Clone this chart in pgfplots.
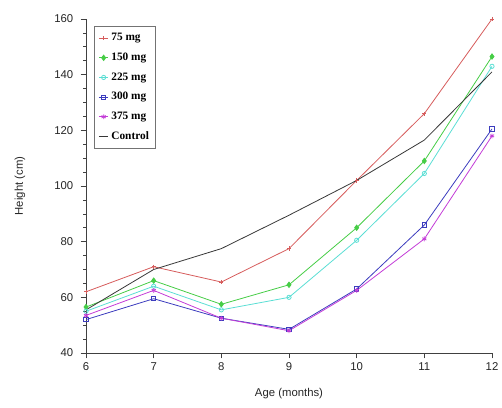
\documentclass[border=0pt]{standalone}
\usepackage{pgfplots}
\pgfplotsset{compat=1.18}
\usepackage{fontspec}
\setmainfont{Liberation Sans}
\newfontfamily\legfont{Liberation Serif}

\definecolor{cRed}{RGB}{214,92,92}
\definecolor{cGreen}{RGB}{70,205,70}
\definecolor{cCyan}{RGB}{90,222,212}
\definecolor{cBlue}{RGB}{60,60,190}
\definecolor{cMag}{RGB}{195,60,215}
\definecolor{cCtrl}{RGB}{55,55,55}

\begin{document}
\begin{tikzpicture}
% fixed canvas so the axis sits where it should
\path[use as bounding box] (-64.5pt,-40.5pt) rectangle (312pt,264.75pt);
\begin{axis}[
  at={(0pt,0pt)}, anchor=origin,
  scale only axis,
  width=304.5pt, height=250.5pt,
  xmin=6, xmax=12, ymin=40, ymax=160,
  xtick={6,...,12},
  ytick={40,60,...,160},
  minor y tick num=3,
  axis x line*=bottom, axis y line*=left,
  axis line style={line width=0.6pt, black!75},
  tick align=outside,
  major tick length=4pt, minor tick length=2pt,
  tick style={black!75, line width=0.5pt},
  ticklabel style={font=\fontsize{8.5}{10}\selectfont, text=black!85},
  yticklabel style={xshift=-2pt},
  /pgf/number format/assume math mode=true,
  xlabel={Age (months)},
  ylabel={Height (cm)},
  label style={font=\fontsize{8.5}{10}\selectfont, text=black!85},
  xlabel style={yshift=-6pt},
  ylabel style={yshift=15pt},
  every axis plot/.append style={line width=0.6pt},
  legend style={at={(0.02,0.98)}, anchor=north west,
    font=\legfont\bfseries\fontsize{8.5}{10}\selectfont,
    draw=black!55, line width=0.7pt, row sep=3.6pt,
    inner xsep=3pt, inner ysep=3.5pt},
  legend cell align=left,
  legend image code/.code={
    \draw[#1] (0pt,0pt) -- (7pt,0pt);
    \path[#1, only marks] plot coordinates {(3.5pt,0pt)};},
]
\addplot[cRed, mark=+, mark size=1.6pt] coordinates {
  (6,62) (7,71) (8,65.5) (9,77.5) (10,102) (11,126) (12,160)};
\addlegendentry{75 mg}
\addplot[cGreen, mark=diamond*, mark size=2pt] coordinates {
  (6,56.5) (7,66) (8,57.5) (9,64.5) (10,85) (11,109) (12,146.5)};
\addlegendentry{150 mg}
\addplot[cCyan, mark=o, mark size=1.6pt] coordinates {
  (6,55) (7,64) (8,55.5) (9,60) (10,80.5) (11,104.5) (12,143)};
\addlegendentry{225 mg}
\addplot[cBlue, mark=square, mark size=1.6pt] coordinates {
  (6,52) (7,59.5) (8,52.5) (9,48.5) (10,63) (11,86) (12,120.5)};
\addlegendentry{300 mg}
\addplot[cMag, mark=asterisk, mark size=1.8pt] coordinates {
  (6,53.5) (7,62.5) (8,52.5) (9,48) (10,62.5) (11,81) (12,118)};
\addlegendentry{375 mg}
\addplot[cCtrl, mark=none] coordinates {
  (6,55.5) (7,70) (8,77.5) (9,89.5) (10,102) (11,116.5) (12,141)};
\addlegendentry{Control}
\end{axis}
\end{tikzpicture}
\end{document}
